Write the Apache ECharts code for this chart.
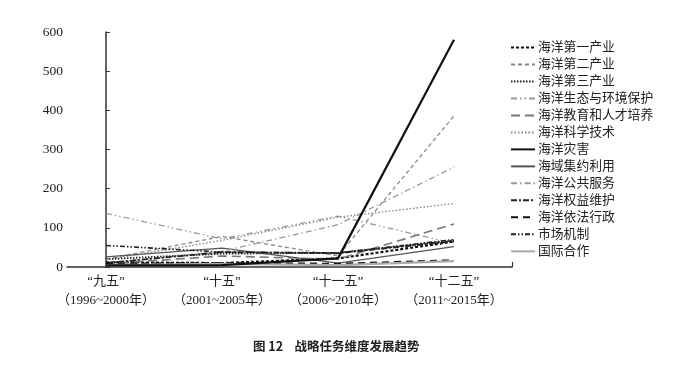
<!DOCTYPE html>
<html>
<head>
<meta charset="utf-8">
<script src="https://cdn.jsdelivr.net/npm/echarts@6/dist/echarts.min.js"></script>
<style>html,body{margin:0;padding:0;background:#fff}#c{width:686px;height:367px}</style>
</head>
<body>
<div id="c"></div>
<script>
const categories = ['“九五”', '“十五”', '“十一五”', '“十二五”'];
const periods = ['（1996~2000年）', '（2001~2005年）', '（2006~2010年）', '（2011~2015年）'];
const yTicks = [0, 100, 200, 300, 400, 500, 600];

const seriesNames = ['海洋第一产业','海洋第二产业','海洋第三产业','海洋生态与环境保护','海洋教育和人才培养','海洋科学技术','海洋灾害','海域集约利用','海洋公共服务','海洋权益维护','海洋依法行政','市场机制','国际合作'];

const s_first      = [12, 10, 22, 65];
const s_second     = [20, 78, 28, 386];
const s_third      = [20, 34, 36, 68];
const s_ecology    = [137, 72, 130, 60];
const s_education  = [8, 28, 20, 110];
const s_science    = [18, 68, 127, 162];
const s_disaster   = [4, 5, 22, 580];
const s_seaUse     = [26, 48, 10, 52];
const s_public     = [10, 40, 108, 255];
const s_rights     = [10, 38, 35, 66];
const s_law        = [8, 10, 8, 17];
const s_market     = [55, 38, 36, 70];
const s_intl       = [5, 8, 5, 15];

const seriesValues = [s_first, s_second, s_third, s_ecology, s_education, s_science, s_disaster, s_seaUse, s_public, s_rights, s_law, s_market, s_intl];

const styles = [
  {color:'#111', width:2.2, type:[3,2]},
  {color:'#888', width:1.3, type:[4,3]},
  {color:'#222', width:1.8, type:[1.5,1.5]},
  {color:'#999', width:1.3, type:[6,3,1.5,3,1.5,3]},
  {color:'#777', width:1.6, type:[9,5]},
  {color:'#888', width:1.4, type:[1.5,2]},
  {color:'#111', width:2.2, type:'solid'},
  {color:'#555', width:1.3, type:'solid'},
  {color:'#999', width:1.3, type:[6,3,1.5,3]},
  {color:'#222', width:1.8, type:[6,2,2,2]},
  {color:'#111', width:2.2, type:[7,5]},
  {color:'#222', width:1.6, type:[5,2,1.5,2,1.5,2]},
  {color:'#aaa', width:2.2, type:'solid'}
];

const fontF = '"Liberation Serif", "Noto Sans CJK SC", serif';

const chart = echarts.init(document.getElementById('c'), null, {renderer:'canvas'});
chart.setOption({
  animation: false,
  backgroundColor: '#fff',
  title: {
    text: '图 12    战略任务维度发展趋势',
    left: 248, top: 335,
    textStyle: {fontFamily: '"Noto Sans CJK SC", sans-serif', fontSize: 12.5, fontWeight: 'bold', color: '#222'}
  },
  grid: {left: 67, right: 174, top: 32, bottom: 100},
  legend: {
    orient: 'vertical', left: 505, top: 36,
    itemWidth: 24, itemHeight: 12, itemGap: 4.2,
    itemStyle: {opacity: 0},
    textStyle: {fontFamily: fontF, fontSize: 12.8, color: '#222', padding: [0,0,0,-2]},
    data: seriesNames
  },
  xAxis: {
    type: 'value', min: -0.336, max: 3.5,
    axisLine: {show: true, lineStyle: {color: '#333', width: 1.5}},
    axisTick: {show: true, inside: true, length: 5, customValues: [3.5], lineStyle: {color: '#333', width: 1.2}},
    splitLine: {show: false},
    axisLabel: {
      customValues: [0, 1, 2, 3],
      margin: 5,
      fontFamily: fontF, fontSize: 13, color: '#222', lineHeight: 19,
      formatter: v => categories[Math.round(v)] + '\n' + periods[Math.round(v)]
    }
  },
  yAxis: {
    type: 'value', min: yTicks[0], max: yTicks[yTicks.length-1], interval: 100,
    axisLine: {show: true, lineStyle: {color: '#333', width: 1.5}},
    axisTick: {show: true, inside: true, length: 4, lineStyle: {color: '#333'}},
    splitLine: {show: false},
    axisLabel: {fontFamily: fontF, fontSize: 13.5, color: '#222', margin: 4}
  },
  series: seriesNames.map((name, i) => ({
    name: name,
    type: 'line',
    symbol: 'none',
    data: seriesValues[i].map((v, j) => [j, v]),
    color: styles[i].color,
    lineStyle: {color: styles[i].color, width: styles[i].width, type: styles[i].type},
    z: i === 6 ? 10 : 2
  }))
});
</script>
</body>
</html>
